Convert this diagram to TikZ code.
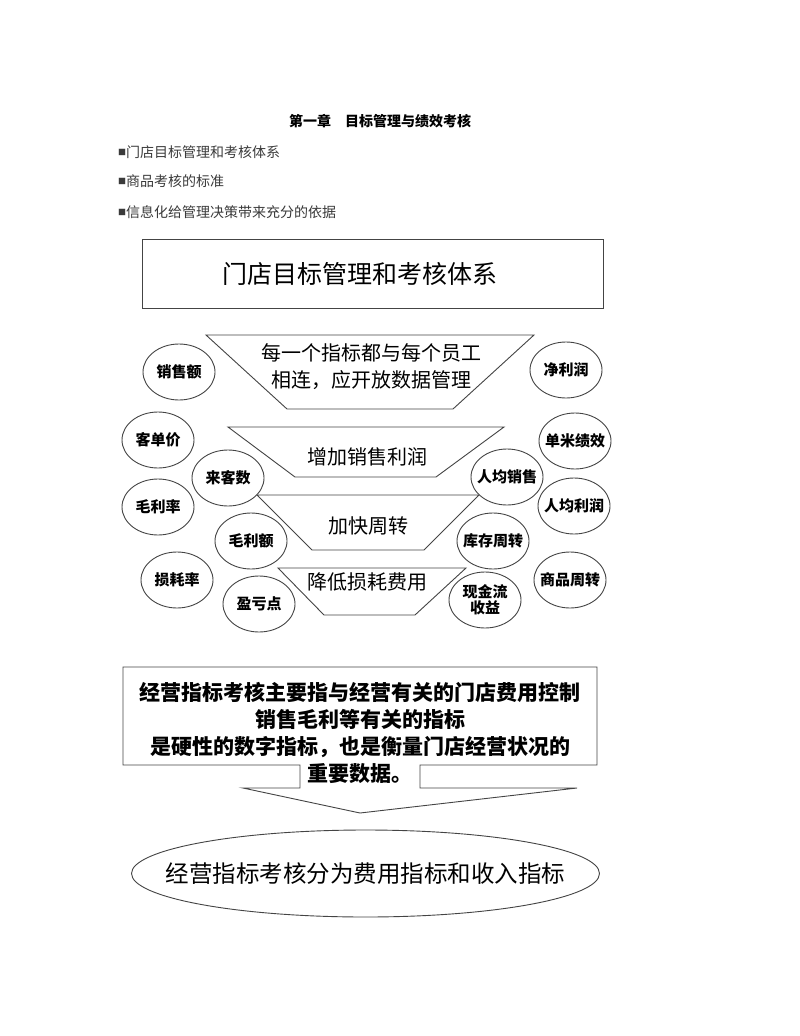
\documentclass[tikz,border=0pt]{standalone}
\usepackage{fontspec}
\setmainfont{Noto Sans CJK SC}
\usetikzlibrary{shapes.geometric}
\definecolor{linec}{HTML}{444444}
\definecolor{bulletc}{HTML}{3A3A3A}
\tikzset{
  outline/.style={draw=linec, line width=0.9pt},
  funnel/.style={outline, fill=white},
  ellip/.style={ellipse, outline, fill=white, inner sep=0pt, minimum width=72pt, minimum height=56pt, font=\fontsize{15}{17}\selectfont\bfseries},
  funneltext/.style={inner sep=0pt, font=\fontsize{20}{27}\selectfont, align=center},
  bullettext/.style={anchor=west, inner sep=0pt, text=bulletc, font=\fontsize{14}{16}\selectfont}
}
\newcommand{\mybullet}{{\fontsize{8}{8}\selectfont\raisebox{1.5pt}{■}}}
\begin{document}
\begin{tikzpicture}[x=1pt,y=-1pt]
\useasboundingbox[fill=white] (0,0) rectangle (800,1036);

% header
\node[inner sep=0pt, font=\fontsize{14}{16}\selectfont\bfseries] (head) at (380,121) {第一章\hspace{14pt}目标管理与绩效考核};
\node[bullettext] (b1) at (118,152) {\mybullet 门店目标管理和考核体系};
\node[bullettext] (b2) at (118,181) {\mybullet 商品考核的标准};
\node[bullettext] (b3) at (118,212) {\mybullet 信息化给管理决策带来充分的依据};

% title box
\node[outline, rectangle, minimum width=461pt, minimum height=69pt, inner sep=0pt] (titlebox) at (372.5,273.5) {};
\node[inner sep=0pt, font=\fontsize{25}{28}\selectfont] (title) at (360,273.5) {门店目标管理和考核体系};

% funnel
\draw[funnel] (206,335) -- (534,335) -- (453,409) -- (287,409) -- cycle;
\draw[funnel] (228,427) -- (504,427) -- (436,477) -- (295,477) -- cycle;
\draw[funnel] (257,495) -- (479,495) -- (424,550) -- (312,550) -- cycle;
\draw[funnel] (278,568) -- (466,568) -- (415,615) -- (324,615) -- cycle;

\node[funneltext] (f1) at (371,366.5) {每一个指标都与每个员工\\相连，应开放数据管理};
\node[funneltext] (f2) at (367,457) {增加销售利润};
\node[funneltext] (f3) at (368,526) {加快周转};
\node[funneltext] (f4) at (367,582) {降低损耗费用};

% ellipses left
\node[ellip] (e1) at (179,372) {\makebox[0pt]{销售额}};
\node[ellip] (e2) at (158,440) {\makebox[0pt]{客单价}};
\node[ellip] (e3) at (228,478) {\makebox[0pt]{来客数}};
\node[ellip] (e4) at (158,507) {\makebox[0pt]{毛利率}};
\node[ellip] (e5) at (251,541) {\makebox[0pt]{毛利额}};
\node[ellip] (e6) at (177,580) {\makebox[0pt]{损耗率}};
\node[ellip] (e7) at (259,604) {\makebox[0pt]{盈亏点}};
% ellipses right
\node[ellip] (e8) at (566,370) {\makebox[0pt]{净利润}};
\node[ellip] (e9) at (575,441) {\makebox[0pt]{单米绩效}};
\node[ellip] (e10) at (507,477) {\makebox[0pt]{人均销售}};
\node[ellip] (e11) at (574,506) {\makebox[0pt]{人均利润}};
\node[ellip] (e12) at (493,541) {\makebox[0pt]{库存周转}};
\node[ellip] (e13) at (570,580) {\makebox[0pt]{商品周转}};
\node[ellip] (e14) at (485,600) {\makebox[0pt]{\shortstack{现金流\\[-1pt]收益}}};

% callout
\draw[outline, fill=white] (123,667) -- (597,667) -- (597,765) -- (420,765) -- (420,788) -- (577,788) -- (360,813) -- (243,788) -- (300,788) -- (300,765) -- (123,765) -- cycle;
\node[inner sep=0pt, align=center, font=\fontsize{21}{27}\selectfont\bfseries] (call) at (360,732.5) {经营指标考核主要指与经营有关的门店费用控制\\销售毛利等有关的指标\\是硬性的数字指标，也是衡量门店经营状况的\\重要数据。};

% result ellipse
\node[ellipse, outline, inner sep=0pt, minimum width=468pt, minimum height=87pt, font=\fontsize{23.5}{26}\selectfont] (result) at (365.5,873.5) {\makebox[0pt]{经营指标考核分为费用指标和收入指标}};
\end{tikzpicture}
\end{document}
